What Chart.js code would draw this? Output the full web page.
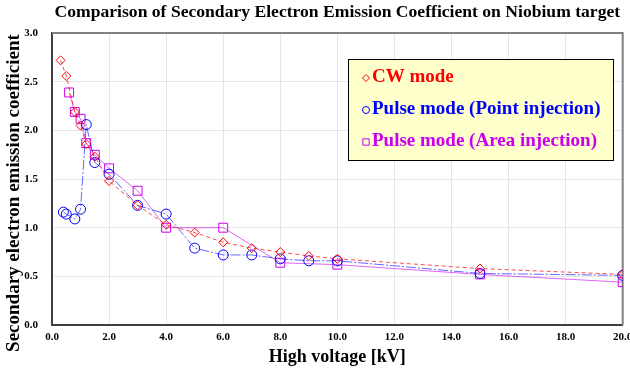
<!DOCTYPE html>
<html>
<head>
<meta charset="utf-8">
<script src="https://cdn.jsdelivr.net/npm/chart.js@4"></script>
<style>
  html, body { margin: 0; padding: 0; background: #fff; }
  #wrap { width: 630px; height: 368px; position: relative; }
</style>
</head>
<body>
<div id="wrap"><canvas id="seeChart"></canvas></div>
<script>
// values
const cwVoltage = [0.3, 0.5, 0.8, 1.0, 1.2, 1.5, 2.0, 3.0, 4.0, 5.0, 6.0, 7.0, 8.0, 9.0, 10.0, 15.0, 20.0];
const cwCoeff = [2.72, 2.56, 2.19, 2.05, 1.86, 1.73, 1.48, 1.23, 1.03, 0.95, 0.85, 0.79, 0.75, 0.71, 0.68, 0.58, 0.52];

const pointVoltage = [0.4, 0.5, 0.8, 1.0, 1.2, 1.5, 2.0, 3.0, 4.0, 5.0, 6.0, 7.0, 8.0, 9.0, 10.0, 15.0, 20.0];
const pointCoeff = [1.16, 1.14, 1.09, 1.19, 2.06, 1.67, 1.55, 1.23, 1.14, 0.79, 0.72, 0.72, 0.68, 0.66, 0.66, 0.53, 0.51];

const areaVoltage = [0.6, 0.8, 1.0, 1.2, 1.5, 2.0, 3.0, 4.0, 6.0, 8.0, 10.0, 15.0, 20.0];
const areaCoeff = [2.39, 2.19, 2.12, 1.87, 1.75, 1.61, 1.38, 1.00, 1.00, 0.64, 0.62, 0.52, 0.44];

const xTicks = [0, 2, 4, 6, 8, 10, 12, 14, 16, 18, 20];
const yTicks = [0, 0.5, 1.0, 1.5, 2.0, 2.5, 3.0];

const seriesNames = ['CW mode', 'Pulse mode (Point injection)', 'Pulse mode (Area injection)'];
const yTitle = 'Secondary electron emission coefficient';

const RED = '#ff0000';
const BLUE = '#0000ff';
const VIOLET = '#cc00ee';
const SERIF = '"Liberation Serif", "Times New Roman", serif';

function toXY(xs, ys) {
    return xs.map((x, i) => ({ x: x, y: ys[i] }));
}

// frame around the plot, y title (sits a bit low in the original), boxed legend
const framePlugin = {
    id: 'frame',
    beforeDatasetsDraw(chart) {
        const { ctx, chartArea: a } = chart;
        ctx.save();
        ctx.strokeStyle = '#808080';
        ctx.lineWidth = 2;
        ctx.beginPath();
        ctx.moveTo(a.left, a.top);
        ctx.lineTo(a.right, a.top);
        ctx.lineTo(a.right, a.bottom);
        ctx.stroke();
        ctx.restore();
    },
    afterDraw(chart) {
        const ctx = chart.ctx;
        ctx.save();
        ctx.translate(14, 193);
        ctx.rotate(-Math.PI / 2);
        ctx.font = 'bold 19px ' + SERIF;
        ctx.fillStyle = '#000';
        ctx.textAlign = 'center';
        ctx.textBaseline = 'middle';
        ctx.fillText(yTitle, 0, 0);
        ctx.restore();

        const box = { x: 348, y: 59, w: 265, h: 101 };
        ctx.save();
        ctx.fillStyle = '#ffffcc';
        ctx.fillRect(box.x, box.y, box.w, box.h);
        ctx.strokeStyle = '#000';
        ctx.lineWidth = 1;
        ctx.strokeRect(box.x + 0.5, box.y + 0.5, box.w, box.h);

        const colors = [RED, BLUE, VIOLET];
        const styles = ['rectRot', 'circle', 'rect'];
        const rows = [77, 109, 141];
        ctx.textBaseline = 'middle';
        for (let i = 0; i < 3; i++) {
            ctx.fillStyle = 'rgba(0,0,0,0)';
            ctx.strokeStyle = colors[i];
            ctx.lineWidth = 1;
            Chart.helpers.drawPoint(ctx, { pointStyle: styles[i], radius: i === 2 ? 4.5 : 3.5, borderWidth: 1 }, 366, rows[i] + 1);
            ctx.font = 'bold 19px ' + SERIF;
            ctx.fillStyle = colors[i];
            ctx.fillText(seriesNames[i], 372, rows[i]);
        }
        ctx.restore();
    }
};

const ctx = document.getElementById('seeChart').getContext('2d');
new Chart(ctx, {
    type: 'scatter',
    data: {
        datasets: [
            {
                label: seriesNames[0],
                data: toXY(cwVoltage, cwCoeff),
                showLine: true,
                borderColor: 'rgba(255, 0, 0, 0.7)',
                borderWidth: 1,
                borderDash: [4, 3],
                pointStyle: 'rectRot',
                pointRadius: 4.5,
                pointBorderColor: RED,
                pointBackgroundColor: 'rgba(0,0,0,0)',
                pointBorderWidth: 1
            },
            {
                label: seriesNames[1],
                data: toXY(pointVoltage, pointCoeff),
                showLine: true,
                borderColor: 'rgba(0, 0, 255, 0.6)',
                borderWidth: 1,
                borderDash: [10, 2, 2, 2],
                pointStyle: 'circle',
                pointRadius: 5,
                pointBorderColor: BLUE,
                pointBackgroundColor: 'rgba(0,0,0,0)',
                pointBorderWidth: 1
            },
            {
                label: seriesNames[2],
                data: toXY(areaVoltage, areaCoeff),
                showLine: true,
                borderColor: 'rgba(204, 0, 238, 0.6)',
                borderWidth: 1,
                pointStyle: 'rect',
                pointRadius: 6.3,
                pointBorderColor: VIOLET,
                pointBackgroundColor: 'rgba(0,0,0,0)',
                pointBorderWidth: 1
            }
        ]
    },
    options: {
        responsive: true,
        maintainAspectRatio: false,
        animation: false,
        layout: { padding: { left: 0, right: 7, top: 0, bottom: 0 } },
        scales: {
            x: {
                type: 'linear',
                min: 0,
                max: 20,
                afterBuildTicks: s => { s.ticks = xTicks.map(v => ({ value: v })); },
                afterFit: s => { s.height = 43; s.paddingRight = 0; s.paddingLeft = 0; },
                ticks: {
                    color: '#000',
                    font: { family: SERIF, size: 11, weight: 'bold' },
                    padding: 6,
                    maxRotation: 0,
                    callback: v => Number(v).toFixed(1)
                },
                grid: { color: '#e6e6e6', drawTicks: false },
                border: { color: '#404040', width: 2 },
                title: {
                    display: true,
                    text: 'High voltage [kV]',
                    color: '#000',
                    font: { family: SERIF, size: 18, weight: 'bold' },
                    padding: { top: 0, bottom: 0 }
                }
            },
            y: {
                min: 0,
                max: 3,
                afterBuildTicks: s => { s.ticks = yTicks.map(v => ({ value: v })); },
                afterFit: s => { s.width = 52; },
                ticks: {
                    color: '#000',
                    font: { family: SERIF, size: 11, weight: 'bold' },
                    padding: 14,
                    callback: v => Number(v).toFixed(1)
                },
                grid: { color: '#e6e6e6', drawTicks: false },
                border: { color: '#404040', width: 2 }
            }
        },
        plugins: {
            legend: { display: false },
            tooltip: { enabled: false },
            title: {
                display: true,
                fullSize: false,
                text: 'Comparison of Secondary Electron Emission Coefficient on Niobium target',
                color: '#000',
                font: { family: SERIF, size: 17.6, weight: 'bold' },
                padding: { top: 2, bottom: 10 }
            }
        }
    },
    plugins: [framePlugin]
});
</script>
</body>
</html>
